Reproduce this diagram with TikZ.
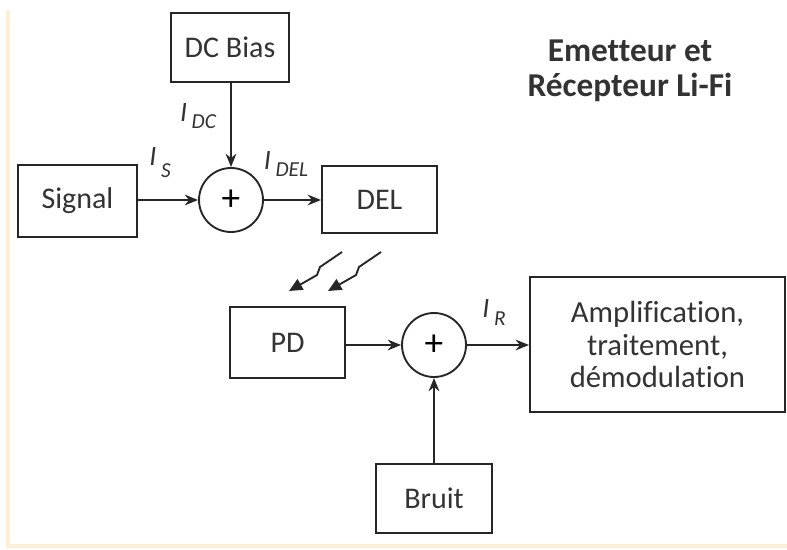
\documentclass[tikz,border=0pt]{standalone}
\usepackage{fontspec}
\setmainfont{Carlito}[Ligatures={NoCommon}]
\usetikzlibrary{arrows.meta}
\begin{document}
\begin{tikzpicture}[x=0.75pt,y=-0.75pt,
  box/.style={draw=black!85,line width=1.5pt,inner sep=0pt,font=\fontsize{22.5}{24}\selectfont,text=black!80},
  sumnode/.style={circle,draw=black!85,line width=1.4pt,minimum size=48pt,inner sep=0pt,font=\fontsize{28}{28}\selectfont},
  conn/.style={line width=1.5pt,draw=black!85,-{Stealth[length=10pt,width=8pt]}},
  ray/.style={line width=1.4pt,draw=black!85,-{Triangle[length=10pt,width=9pt]}},
  lbl/.style={font=\fontsize{21}{21}\selectfont\itshape,text=black!80,inner sep=0pt},
  ttl/.style={font=\fontsize{25}{26.5}\selectfont\bfseries,text=black!80,align=center}]
\useasboundingbox (0,0) rectangle (787,549);
\fill[white] (0,0) rectangle (787,549);
\draw[color={rgb,255:red,251;green,239;blue,214},line width=2.5pt] (8,10) -- (8,546) -- (787,546);
% title
\node[ttl] (title) at (630,71) {Emetteur et\\Récepteur Li-Fi};
% boxes
\node[box,minimum width=88.5pt,minimum height=51.75pt] (dc) at (230,47.5) {DC Bias};
\node[box,minimum width=89.25pt,minimum height=54pt] (sig) at (77.5,201) {Signal};
\node[sumnode] (s1) at (231,200) {+};
\node[box,minimum width=86.25pt,minimum height=50.25pt] (del) at (379.5,199.5) {DEL};
\node[box,minimum width=86.25pt,minimum height=53.25pt] (pd) at (287.5,342.5) {PD};
\node[sumnode] (s2) at (434,345) {+};
\node[box,minimum width=191.25pt,minimum height=101.25pt,align=center,font=\fontsize{23}{24.5}\selectfont] (amp) at (657.5,344.5) {Amplification,\\traitement,\\démodulation};
\node[box,minimum width=87pt,minimum height=51.75pt] (br) at (434,498.5) {Bruit};
% connectors
\draw[conn] (dc.south -| s1.north) -- (s1.north);
\draw[conn] (sig.east |- s1.west) -- (s1.west);
\draw[conn] (s1.east) -- (s1.east -| del.west);
\draw[conn] (pd.east |- s2.west) -- (s2.west);
\draw[conn] (s2.east) -- (s2.east -| amp.west);
\draw[conn] (br.north -| s2.south) -- (s2.south);
% labels
\node[lbl] (idc) at (198,116) {I\,\raisebox{-5pt}{\fontsize{16}{16}\selectfont DC}};
\node[lbl] (is) at (160,163) {I\,\raisebox{-9pt}{\fontsize{16}{16}\selectfont S}};
\node[lbl] (idel) at (286,164) {I\,\raisebox{-5pt}{\fontsize{16}{16}\selectfont DEL}};
\node[lbl] (ir) at (494,313) {I\,\raisebox{-6pt}{\fontsize{16}{16}\selectfont R}};
% light rays
\coordinate (a1) at (342,252);
\coordinate (b1) at (289,291);
\coordinate (a2) at (381,252);
\coordinate (b2) at (328,291);
\draw[ray] (a1) -- (320,267) -- (317,275) -- (b1);
\draw[ray] (a2) -- (359,267) -- (356,275) -- (b2);
\end{tikzpicture}
\end{document}
